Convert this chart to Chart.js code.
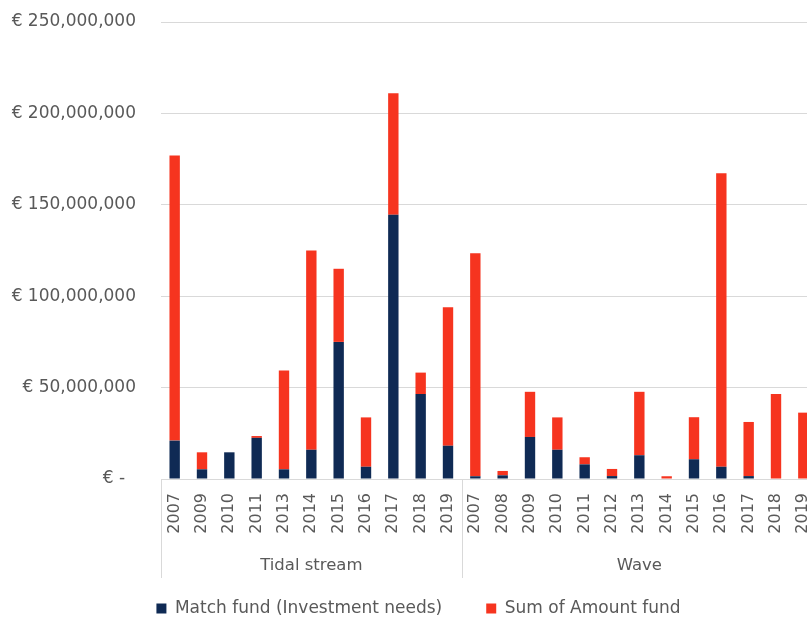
<!DOCTYPE html>
<html>
<head>
<meta charset="utf-8">
<script src="https://cdn.jsdelivr.net/npm/chart.js@4/dist/chart.umd.min.js"></script>
<style>
  html, body { margin: 0; padding: 0; background: #fff; overflow: hidden; }
  #wrap { width: 817px; height: 627px; position: relative; }
</style>
</head>
<body>
<div id="wrap"><canvas id="fundChart"></canvas></div>
<script>
  // category groups and years (x axis)
  const groupNames = ['Tidal stream', 'Wave'];
  const tidalYears = ['2007', '2009', '2010', '2011', '2013', '2014', '2015', '2016', '2017', '2018', '2019'];
  const waveYears = ['2007', '2008', '2009', '2010', '2011', '2012', '2013', '2014', '2015', '2016', '2017', '2018', '2019'];

  // values in euro
  const tidalMatch = [21e6, 5.3e6, 14.6e6, 22.5e6, 5.3e6, 16e6, 75e6, 6.7e6, 144.5e6, 46.5e6, 18.2e6];
  const tidalSum = [156e6, 9.3e6, 0, 1e6, 54e6, 109e6, 40e6, 27e6, 66.5e6, 11.7e6, 75.7e6];
  const waveMatch = [1.5e6, 2e6, 23e6, 16e6, 8e6, 1.6e6, 13e6, 0, 10.8e6, 6.7e6, 1.6e6, 0, 0];
  const waveSum = [122e6, 2.4e6, 24.7e6, 17.7e6, 3.9e6, 3.9e6, 34.7e6, 1.5e6, 23e6, 160.5e6, 29.6e6, 46.5e6, 36.3e6];

  const yTicks = [0, 50e6, 100e6, 150e6, 200e6, 250e6];

  const labels = tidalYears.concat(waveYears);
  const groupSizes = [tidalYears.length, waveYears.length];

  const textGrey = '#595959';
  const lineGrey = '#d9d9d9';
  const fontFamily = '"DejaVu Sans", sans-serif';

  // draws the second level of the category axis (group names + separators)
  const groupAxis = {
    id: 'groupAxis',
    afterLayout(chart) {
      // nudge the legend a bit to the right, like the original
      chart.legend.left += 10;
      chart.legend.right += 10;
    },
    afterDraw(chart) {
      const x = chart.scales.x;
      const ctx = chart.ctx;
      const step = x.getPixelForValue(1) - x.getPixelForValue(0);
      const top = chart.chartArea.bottom;
      ctx.save();
      ctx.strokeStyle = lineGrey;
      ctx.lineWidth = 1;
      let start = 0;
      const bounds = [];
      groupSizes.forEach(n => {
        bounds.push(x.getPixelForValue(start) - step / 2);
        start += n;
      });
      bounds.push(x.getPixelForValue(start - 1) + step / 2);
      bounds.forEach(b => {
        const px = Math.round(b) + 0.5;
        ctx.beginPath();
        ctx.moveTo(px, top);
        ctx.lineTo(px, top + 99);
        ctx.stroke();
      });
      ctx.fillStyle = textGrey;
      ctx.font = '16.5px ' + fontFamily;
      ctx.textAlign = 'center';
      ctx.textBaseline = 'middle';
      groupNames.forEach((name, i) => {
        ctx.fillText(name, (bounds[i] + bounds[i + 1]) / 2, top + 87);
      });
      ctx.restore();
    }
  };

  new Chart(document.getElementById('fundChart'), {
    type: 'bar',
    data: {
      labels,
      datasets: [{
        label: 'Match fund (Investment needs)',
        data: tidalMatch.concat(waveMatch),
        backgroundColor: '#0f2a54',
        barPercentage: 0.38,
        categoryPercentage: 1
      }, {
        label: 'Sum of Amount fund',
        data: tidalSum.concat(waveSum),
        backgroundColor: '#f6341f',
        barPercentage: 0.38,
        categoryPercentage: 1
      }]
    },
    options: {
      responsive: true,
      maintainAspectRatio: false,
      animation: false,
      layout: { padding: { left: 0, top: 22, right: 0, bottom: 0 } },
      scales: {
        x: {
          stacked: true,
          grid: { display: false, drawTicks: false },
          border: { display: true, color: lineGrey },
          ticks: {
            color: textGrey,
            font: { family: fontFamily, size: 16 },
            maxRotation: 90,
            minRotation: 90,
            padding: 14,
            autoSkip: false
          },
          afterFit: scale => {
            scale.height = 77;
            scale.paddingLeft = 0;
            scale.paddingRight = 0;
          }
        },
        y: {
          stacked: true,
          min: 0,
          max: 250e6,
          afterBuildTicks: scale => { scale.ticks = yTicks.map(v => ({ value: v })); },
          grid: { color: lineGrey, drawTicks: false },
          border: { display: false },
          ticks: {
            color: textGrey,
            font: { family: fontFamily, size: 17 },
            padding: 25,
            callback: v => v === 0 ? '€ -  ' : '€ ' + v.toLocaleString('en-US')
          },
          afterFit: scale => {
            scale.width = 161;
            scale.paddingTop = 0;
            scale.paddingBottom = 0;
          }
        }
      },
      plugins: {
        legend: {
          position: 'bottom',
          labels: {
            color: textGrey,
            font: { family: fontFamily, size: 17 },
            boxWidth: 10,
            boxHeight: 10,
            padding: 44
          }
        },
        tooltip: { enabled: false }
      }
    },
    plugins: [groupAxis]
  });
</script>
</body>
</html>
